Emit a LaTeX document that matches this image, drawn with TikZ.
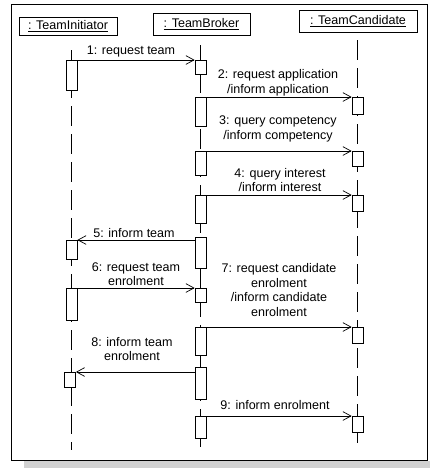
\documentclass[tikz,border=0pt]{standalone}
\usepackage{fontspec}
\setmainfont{Liberation Sans}
\usetikzlibrary{arrows.meta}
\begin{document}
\begin{tikzpicture}[x=0.03cm, y=-0.03cm, >={Straight Barb[length=2.4mm, width=2.6mm]},
  line width=0.6pt,
  head/.style={draw, fill=white, inner sep=0pt, minimum height=0.66cm},
  bar/.style={draw, fill=white, anchor=north, inner sep=0pt, minimum width=0.33cm},
  lifeline/.style={dash pattern=on 0.6cm off 0.24cm},
  msg/.style={font=\fontsize{10.7}{12.4}\selectfont, align=center, inner sep=0pt}]
\useasboundingbox (0,0) rectangle (430,468);
\fill[black!18] (24,461) rectangle (430,468);
\draw[fill=white] (11,4) rectangle (427,460);
% heads
\node[head, minimum width=2.94cm, minimum height=0.54cm, font=\fontsize{10.7}{12.4}\selectfont] (ti) at (68,26) {\underline{: TeamInitiator}};
\node[head, minimum width=2.91cm, font=\fontsize{10.7}{12.4}\selectfont] (tb) at (201.5,24) {\underline{: TeamBroker}};
\node[head, minimum width=3.54cm, font=\fontsize{10.7}{12.4}\selectfont] (tc) at (358,21) {\underline{: TeamCandidate}};
% lifelines
\draw[lifeline] (71,50) -- (71,450);
\draw[lifeline] (200.5,45) -- (200.5,447);
\draw[lifeline] (357.5,40) -- (357.5,443);
% activations
\node[bar, minimum height=0.9cm] (a1) at (71.5,60) {};
\node[bar, minimum height=0.57cm] (a5) at (71.5,240) {};
\node[bar, minimum height=0.96cm] (a6) at (71.5,288) {};
\node[bar, minimum height=0.45cm] (a8) at (70,372) {};
\node[bar, minimum height=0.42cm] (b1) at (200.5,60) {};
\node[bar, minimum height=0.87cm] (b2) at (200.5,97) {};
\node[bar, minimum height=0.72cm] (b3) at (200.5,151) {};
\node[bar, minimum height=0.84cm] (b4) at (200.5,195) {};
\node[bar, minimum height=0.93cm] (b5) at (200.5,237) {};
\node[bar, minimum height=0.42cm] (b6) at (200.5,288) {};
\node[bar, minimum height=0.84cm] (b7) at (200.5,327) {};
\node[bar, minimum height=0.96cm] (b8) at (200.5,367) {};
\node[bar, minimum height=0.66cm] (b9) at (200.5,416) {};
\node[bar, minimum height=0.51cm] (c2) at (357.5,97) {};
\node[bar, minimum height=0.45cm] (c3) at (357.5,151) {};
\node[bar, minimum height=0.48cm] (c4) at (357.5,195) {};
\node[bar, minimum height=0.48cm] (c7) at (357.5,327) {};
\node[bar, minimum height=0.48cm] (c9) at (357.5,416) {};
% messages
\draw[->] (a1.north east) -- (b1.north west);
\draw[->] (b2.north east) -- (c2.north west);
\draw[->] (b3.north east) -- (c3.north west);
\draw[->] (b4.north east) -- (c4.north west);
\draw[->] (b5.west |- a5.north) -- (a5.north east);
\draw[->] (a6.north east) -- (b6.north west);
\draw[->] (b7.north east) -- (c7.north west);
\draw[->] (b8.west |- a8.north) -- (a8.north east);
\draw[->] (b9.north east) -- (c9.north west);
% labels
\node[msg] (m1) at (131,51) {1: request team};
\node[msg] (m2) at (278,83) {2: request application\\/inform application};
\node[msg] (m3) at (278,129) {3: query competency\\/inform competency};
\node[msg] (m4) at (280,180) {4: query interest\\/inform interest};
\node[msg] (m5) at (134,233) {5: inform team};
\node[msg] (m6) at (136,274) {6: request team\\enrolment};
\node[msg] (m7) at (279,290) {7: request candidate\\enrolment\\/inform candidate\\enrolment};
\node[msg] (m8) at (132,349) {8: inform team\\enrolment};
\node[msg] (m9) at (275,405) {9: inform enrolment};
\end{tikzpicture}
\end{document}
